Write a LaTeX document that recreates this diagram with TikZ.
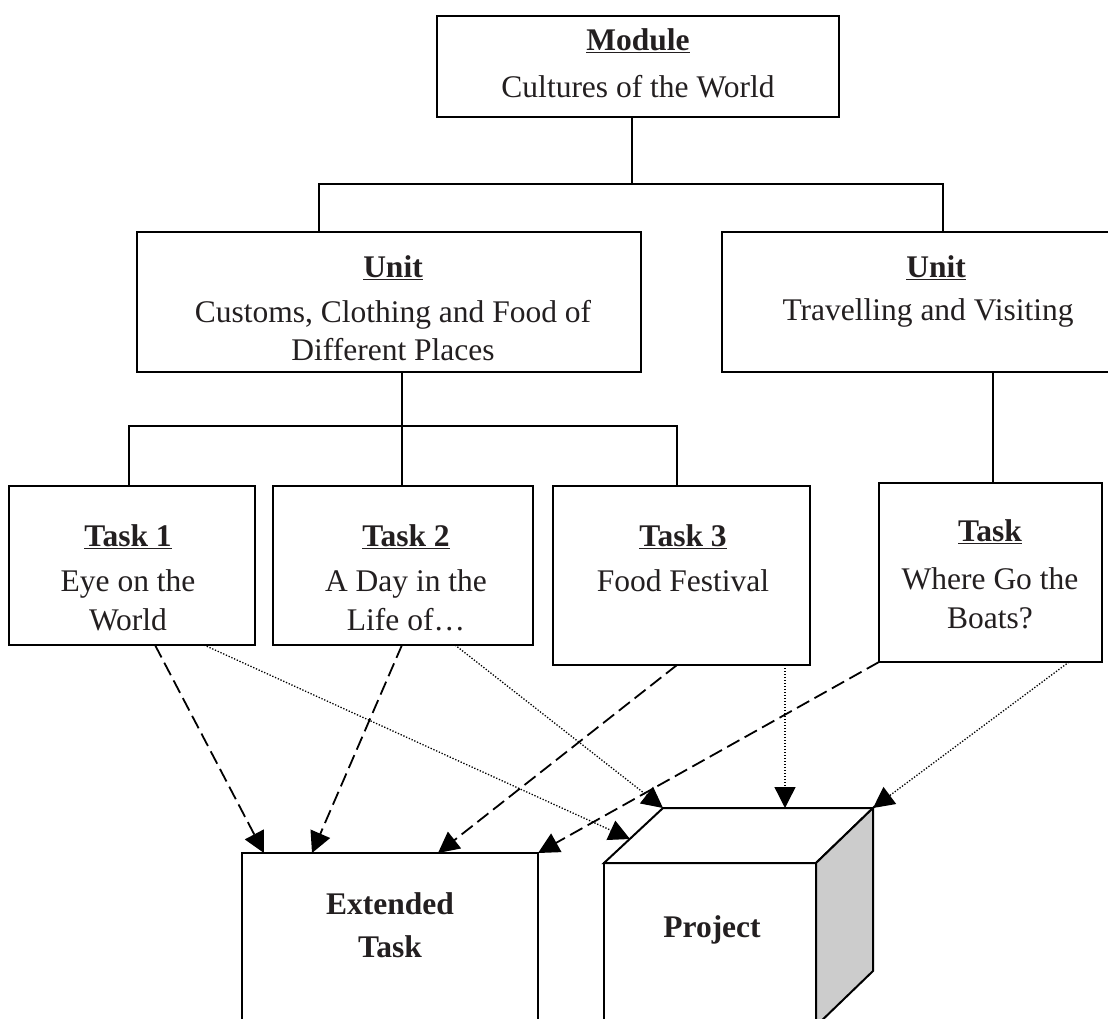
\documentclass[tikz,border=0pt]{standalone}
\usepackage{fontspec}
\setmainfont{Liberation Serif}
\usetikzlibrary{arrows.meta}
\definecolor{ink}{HTML}{231F20}
\definecolor{side}{HTML}{CCCCCC}

\begin{document}
\begin{tikzpicture}[x=1pt,y=-1pt,
  box/.style={draw=black, line width=2pt, fill=white, inner sep=0pt, outer sep=0pt, anchor=north west},
  txt/.style={anchor=base, inner sep=0pt, text=ink, font=\fontsize{31.5}{38}\selectfont},
  hd/.style={txt, font=\fontsize{31.5}{38}\selectfont\bfseries},
  wire/.style={draw=black, line width=2pt},
  dashlink/.style={draw=black, line width=1.8pt, dash pattern=on 14pt off 6pt,
    -{Triangle[length=21pt,width=21pt]}},
  dotlink/.style={draw=black, line width=1.3pt, dash pattern=on 1.3pt off 1.7pt,
    -{Triangle[length=21pt,width=21pt]}}]

\clip (0,0) rectangle (1108,1018);
\fill[white] (0,0) rectangle (1108,1018);

% ---- module ----
\node[box, minimum width=402pt, minimum height=101pt] (mod) at (437,16) {};
\node[hd]  (modA) at (638,50) {\underline{Module}};
\node[txt] (modB) at (638,97) {Cultures of the World};

% ---- units ----
\node[box, minimum width=504pt, minimum height=140pt] (ul) at (137,232) {};
\node[hd]  (ulA) at (393,277) {\underline{Unit}};
\node[txt] (ulB) at (393,322) {Customs, Clothing and Food of};
\node[txt] (ulC) at (393,360) {Different Places};

\node[box, minimum width=420pt, minimum height=140pt] (ur) at (722,232) {};
\node[hd]  (urA) at (936,277) {\underline{Unit}};
\node[txt] (urB) at (928,320) {Travelling and Visiting};

% ---- tasks ----
\node[box, minimum width=246pt, minimum height=159pt] (t1) at (9,486) {};
\node[hd]  (t1A) at (128,546) {\underline{Task 1}};
\node[txt] (t1B) at (128,591) {Eye on the};
\node[txt] (t1C) at (128,630) {World};

\node[box, minimum width=260pt, minimum height=159pt] (t2) at (273,486) {};
\node[hd]  (t2A) at (406,546) {\underline{Task 2}};
\node[txt] (t2B) at (406,591) {A Day in the};
\node[txt] (t2C) at (406,630) {Life of…};

\node[box, minimum width=257pt, minimum height=179pt] (t3) at (553,486) {};
\node[hd]  (t3A) at (683,546) {\underline{Task 3}};
\node[txt] (t3B) at (683,591) {Food Festival};

\node[box, minimum width=223pt, minimum height=179pt] (t4) at (879,483) {};
\node[hd]  (t4A) at (990,541) {\underline{Task}};
\node[txt] (t4B) at (990,589) {Where Go the};
\node[txt] (t4C) at (990,628) {Boats?};

% ---- tree wiring ----
\coordinate (j1) at (632,184);
\coordinate (jl) at (319,184);
\coordinate (jr) at (943,184);
\draw[wire] (mod.south -| j1) -- (j1);
\draw[wire] (ul.north -| jl) -- (jl) -- (jr) -- (ur.north -| jr);

\coordinate (k1) at (402,426);
\coordinate (k0) at (129,426);
\coordinate (k2) at (677,426);
\draw[wire] (ul.south -| k1) -- (k1) -- (t2.north -| k1);
\draw[wire] (t1.north -| k0) -- (k0) -- (k2) -- (t3.north -| k2);
\coordinate (k4) at (993,400);
\draw[wire] (ur.south -| k4) -- (t4.north -| k4);

% ---- extended task ----
\node[box, minimum width=296pt, minimum height=200pt] (ext) at (242,853) {};
\node[hd] (extA) at (390,914) {Extended};
\node[hd] (extB) at (390,957) {Task};

% ---- project cube ----
\coordinate (cbl) at (663,808);
\coordinate (cbr) at (873,808);
\coordinate (cbb) at (873,971);
\node[box, minimum width=212pt, minimum height=163pt] (prj) at (604,863) {};
\filldraw[fill=white, draw=black, line width=2pt, line join=miter]
  (prj.north west) -- (cbl) -- (cbr) -- (prj.north east) -- cycle;
\filldraw[fill=side, draw=black, line width=2pt, line join=miter]
  (prj.north east) -- (cbr) -- (cbb) -- (prj.south east) -- cycle;
\node[hd] (prjA) at (712,937) {Project};
\coordinate (cedge) at (630,839);
\coordinate (ctop) at (785,808);

% ---- links from tasks ----
\draw[dashlink] ([xshift=146pt]t1.south west) -- ([xshift=22pt]ext.north west);
\draw[dotlink]  ([xshift=195pt]t1.south west) -- (cedge);
\draw[dashlink] ([xshift=129pt]t2.south west) -- ([xshift=70pt]ext.north west);
\draw[dotlink]  ([xshift=182pt]t2.south west) -- (cbl);
\draw[dashlink] ([xshift=124pt]t3.south west) -- ([xshift=196pt]ext.north west);
\draw[dotlink]  (ctop |- t3.south) -- (ctop);
\draw[dashlink] (t4.south west) -- (ext.north east);
\draw[dotlink]  ([xshift=190pt]t4.south west) -- (cbr);
\end{tikzpicture}
\end{document}
